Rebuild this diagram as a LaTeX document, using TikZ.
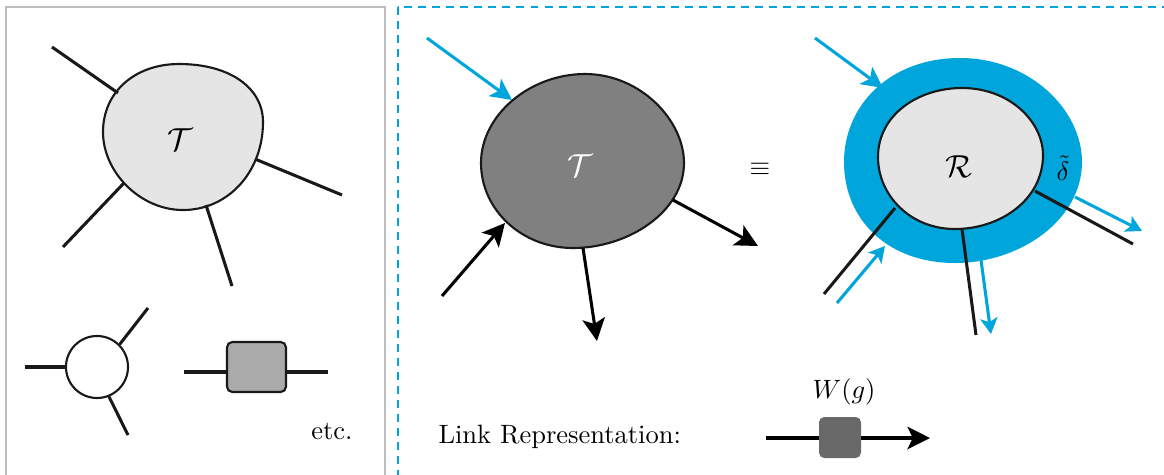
\documentclass[tikz,border=0pt]{standalone}
\usetikzlibrary{arrows.meta}
\definecolor{cyanB}{RGB}{0,165,219}
\definecolor{panelgray}{RGB}{190,190,190}
\definecolor{lightfill}{RGB}{229,229,229}
\definecolor{darkfill}{RGB}{128,128,128}
\definecolor{sqfill}{RGB}{170,170,170}
\definecolor{linkfill}{RGB}{105,105,105}
\tikzset{
  leg/.style={line width=1.15pt, black!90},
  outline/.style={line width=0.8pt, draw=black!90},
  bigarrow/.style={line width=1.15pt, -{Stealth[length=8.5pt,width=8.5pt,inset=2pt]}},
  bluearrow/.style={line width=1.15pt, cyanB, -{Stealth[length=8pt,width=8pt,inset=2pt]}},
  smallblue/.style={line width=1.15pt, cyanB, -{Stealth[length=6pt,width=6.5pt,inset=1.5pt]}},
  lbl/.style={inner sep=0pt}
}
\begin{document}
\begin{tikzpicture}[x=0.3774pt,y=-0.3774pt]
\useasboundingbox (0,0) rectangle (1164,474);
% panels
\draw[panelgray, line width=0.8pt] (6,7) rectangle (385,500);
\draw[cyanB, line width=0.8pt, dash pattern=on 3pt off 2.3pt] (398,7) rectangle (1190,500);

% ---- left panel: big blob
\draw[outline, fill=lightfill] (179,64) .. controls (230,64) and (263,88) .. (263,122)
  .. controls (263,172) and (228,210) .. (183,210)
  .. controls (140,210) and (103,172) .. (103,132)
  .. controls (103,92) and (135,64) .. (179,64) -- cycle;
\node[lbl] (T1) at (180,140) {\large$\mathcal{T}$};
\coordinate (a1) at (118,93);  \coordinate (a1e) at (52,47);
\coordinate (a2) at (255,159); \coordinate (a2e) at (342,195);
\coordinate (a3) at (124,183); \coordinate (a3e) at (63,247);
\coordinate (a4) at (206,205); \coordinate (a4e) at (232,286);
\draw[leg] (a1) -- (a1e);
\draw[leg] (a2) -- (a2e);
\draw[leg] (a3) -- (a3e);
\draw[leg] (a4) -- (a4e);

% small circle
\node[circle, outline, fill=white, minimum size=62*0.3774pt, inner sep=0pt] (C) at (97,367) {};
\coordinate (c1e) at (25,367);
\coordinate (c2e) at (148,308);
\coordinate (c3e) at (128,435);
\draw[leg] (C.west) -- (c1e);
\draw[leg] (C.45) -- (c2e);
\draw[leg] (C.-68) -- (c3e);

% square
\node[outline, fill=sqfill, rounded corners=2pt, minimum width=59*0.3774pt, minimum height=50*0.3774pt, inner sep=0pt] (S) at (256.5,367) {};
\coordinate (s1e) at (184,372);
\coordinate (s2e) at (328,372);
\draw[leg] (s1e) -- (s1e -| S.west);
\draw[leg] (s2e -| S.east) -- (s2e);
\node[lbl] (etc) at (332,431) {etc.};

% ---- middle blob
\draw[outline, fill=darkfill] (585,74) .. controls (640,74) and (684,120) .. (684,163)
  .. controls (684,212) and (628,248) .. (573,248)
  .. controls (522,248) and (481,210) .. (481,163)
  .. controls (481,115) and (530,74) .. (585,74) -- cycle;
\node[lbl, text=white] (T2) at (580,166) {\large$\mathcal{T}$};
\coordinate (m1s) at (427,38);  \coordinate (m1) at (512,100);
\coordinate (m2s) at (442,296); \coordinate (m2) at (505,223);
\coordinate (m3) at (673,200);  \coordinate (m3e) at (758,246);
\coordinate (m4) at (583,248);  \coordinate (m4e) at (597,341);
\draw[bluearrow] (m1s) -- (m1);
\draw[bigarrow] (m2s) -- (m2);
\draw[bigarrow] (m3) -- (m3e);
\draw[bigarrow] (m4) -- (m4e);
\node[lbl] (eq) at (760,169) {$\equiv$};

% ---- right blob
\fill[cyanB] (960,58) .. controls (1030,58) and (1082,110) .. (1082,162)
  .. controls (1082,220) and (1020,263) .. (955,263)
  .. controls (888,263) and (844,220) .. (844,162)
  .. controls (844,105) and (890,58) .. (960,58) -- cycle;
\draw[outline, fill=lightfill] (962,88) .. controls (1010,88) and (1043,122) .. (1043,155)
  .. controls (1043,200) and (1000,229) .. (955,229)
  .. controls (910,229) and (878,195) .. (878,157)
  .. controls (878,115) and (918,88) .. (962,88) -- cycle;
\node[lbl] (R) at (959,167) {\large$\mathcal{R}$};
\node[lbl] (dl) at (1063,168) {$\tilde{\delta}$};
\coordinate (r1s) at (815,38);   \coordinate (r1) at (883,88);
\coordinate (r2) at (895,208);   \coordinate (r2e) at (824,294);
\coordinate (r2bs) at (837,303); \coordinate (r2b) at (885,246);
\coordinate (r3) at (962,229);   \coordinate (r3e) at (976,335);
\coordinate (r3bs) at (981,260); \coordinate (r3b) at (991,334);
\coordinate (r4) at (1035,191);  \coordinate (r4e) at (1133,244);
\coordinate (r4bs) at (1075,197); \coordinate (r4b) at (1142,231);
\draw[bluearrow] (r1s) -- (r1);
\draw[leg] (r2) -- (r2e);
\draw[smallblue] (r2bs) -- (r2b);
\draw[leg] (r3) -- (r3e);
\draw[smallblue] (r3bs) -- (r3b);
\draw[leg] (r4) -- (r4e);
\draw[smallblue] (r4bs) -- (r4b);

% ---- link representation
\node[lbl, anchor=west] (LR) at (438,437) {Link Representation:};
\coordinate (ls) at (766,438);
\coordinate (le) at (930,438);
\draw[bigarrow] (ls) -- (le);
\node[fill=linkfill, rounded corners=2pt, minimum width=42*0.3774pt, minimum height=41*0.3774pt, inner sep=0pt] (W) at (840,437.5) {};
\node[lbl] (Wg) at (844,392) {$W(g)$};
\end{tikzpicture}
\end{document}
